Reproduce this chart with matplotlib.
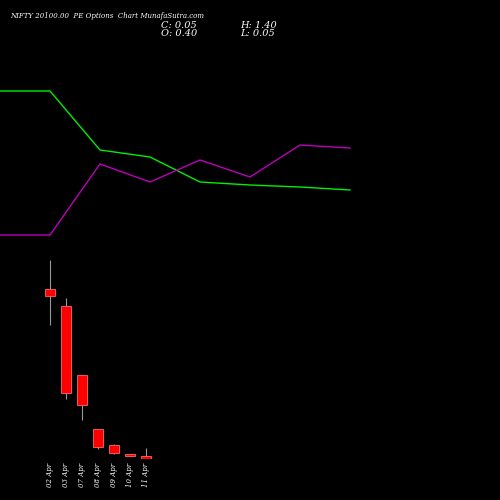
import matplotlib.pyplot as plt

dates = ['02 Apr', '03 Apr', '07 Apr', '08 Apr', '09 Apr', '10 Apr', '11 Apr']
opens = [20.9, 18.8, 10.35, 3.7, 1.8, 0.65, 0.40]
highs = [24.5, 19.8, 10.35, 3.7, 1.9, 0.65, 1.40]
lows = [16.5, 7.4, 4.8, 1.25, 0.65, 0.4, 0.05]
closes = [20.05, 8.15, 6.7, 1.5, 0.8, 0.4, 0.05]

# upper line panel (relative levels)
green_line = [409, 409, 350, 343, 318, 315, 313, 310]
magenta_line = [265, 265, 336, 318, 340, 323, 355, 352]

fig = plt.figure(figsize=(5, 5), dpi=100, facecolor='black')

lx = fig.add_axes([0, 0, 1, 1])
lx.set_facecolor('black')
lx.set_xlim(0, 500)
lx.set_ylim(0, 500)
lx.axis('off')
xs = [i * 50 for i in range(len(green_line))]
lx.plot(xs, green_line, color='#00ee00', lw=1)
lx.plot(xs, magenta_line, color='#bb00bb', lw=1)

ax = fig.add_axes([0, 0.082, 1, 0.4], facecolor='none')
# candle x positions: 50 + 16*i px; y scale: price ~ 0.1227 per px
ax.set_xlim(-50 / 16, 450 / 16)
ax.set_ylim(0.05, 0.05 + 0.1227 * 200)
ax.axis('off')
for i in range(len(dates)):
    ax.vlines(i, lows[i], highs[i], color='#999999', lw=0.8, zorder=1)
    b = min(opens[i], closes[i])
    h = max(abs(opens[i] - closes[i]), 0.15)
    ax.bar(i, h, bottom=b, width=0.62, color='red', edgecolor='#ff6666', lw=0.6, zorder=2)
    fig.text((50 + 16 * i) / 500, 0.05, dates[i], rotation=90, color='white',
             fontsize=5, family='serif', style='italic', ha='center', va='center')

fig.text(0.02, 0.968, 'NIFTY 20100.00  PE Options  Chart MunafaSutra.com', color='white',
         fontsize=5, family='serif', style='italic', va='center')
fig.text(0.322, 0.949, 'C: 0.05', color='white', fontsize=7, family='serif', style='italic', va='center')
fig.text(0.322, 0.932, 'O: 0.40', color='white', fontsize=7, family='serif', style='italic', va='center')
fig.text(0.48, 0.949, 'H: 1.40', color='white', fontsize=7, family='serif', style='italic', va='center')
fig.text(0.48, 0.932, 'L: 0.05', color='white', fontsize=7, family='serif', style='italic', va='center')

fig.savefig('out.png', facecolor='black')
